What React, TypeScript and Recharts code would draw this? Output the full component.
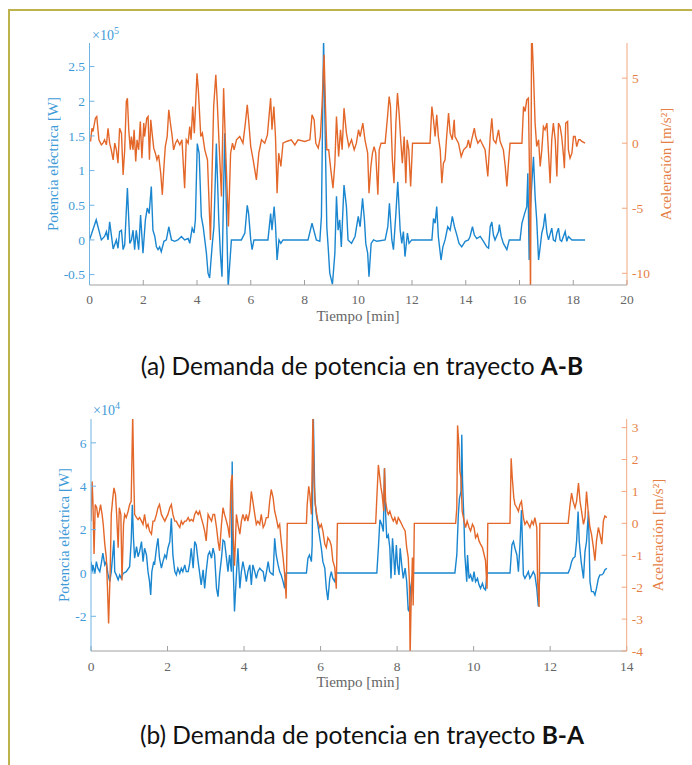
import { Line, LineChart, XAxis, YAxis } from "recharts"

const BLUE = "#1a86d0"
const ORANGE = "#e4672a"
const SERIF = "'Liberation Serif', 'Times New Roman', serif"

// (a) trayecto A-B : [tiempo min, potencia x1e5 W]
const powerAB: [number, number][] = [
  [0,0],[0.25,0.29],[0.44,0],[0.56,0.05],[0.63,0.12],[0.69,0],[0.75,0.26],[0.88,-0.13],[1.0,0],[1.06,-0.12],
  [1.12,0.12],[1.19,0.14],[1.25,-0.14],[1.31,-0.07],[1.41,0.75],[1.5,-0.05],[1.56,0],[1.62,0.14],[1.68,-0.14],[1.74,0.14],
  [1.83,-0.14],[1.9,0.36],[1.99,-0.19],[2.08,0.29],[2.15,0.46],[2.22,0.38],[2.3,0.77],[2.36,0.14],[2.43,0.05],[2.49,-0.1],
  [2.55,-0.14],[2.61,-0.1],[2.67,-0.17],[2.77,-0.02],[2.86,0],[2.95,0.19],[3.05,0],[3.17,-0.02],[3.29,0],[3.42,0.05],
  [3.54,0],[3.67,0.02],[3.73,-0.05],[3.82,0.17],[3.89,0.1],[3.94,0.29],[4.01,1.39],[4.08,1.25],[4.16,0.34],[4.23,0.19],
  [4.29,0],[4.35,-0.19],[4.41,-0.48],[4.47,-0.55],[4.56,-0.1],[4.63,0.19],[4.72,1.39],[4.81,0.29],[4.87,-0.19],[4.93,-0.53],
  [5.03,1.54],[5.16,-0.68],[5.28,0],[5.65,0],[5.78,0.1],[5.87,0.5],[5.92,0.38],[6.0,0],[6.05,-0.14],[6.12,0],
  [6.64,0],[6.74,0.38],[6.79,0.14],[6.87,0.48],[6.92,0.22],[6.98,-0.29],[7.05,0],[7.12,-0.05],[7.2,0],[8.13,0],
  [8.28,0.24],[8.44,0],[8.57,-0.02],[8.63,0.34],[8.71,2.9],[8.78,1.3],[8.83,0.19],[8.88,-0.1],[8.94,-0.48],[9.04,-0.64],
  [9.13,-0.19],[9.19,0.63],[9.25,0.14],[9.31,0.29],[9.37,-0.1],[9.47,0.79],[9.56,0.48],[9.62,0],[9.75,-0.05],[9.88,0.05],
  [10.0,0.34],[10.07,0.19],[10.16,0.6],[10.23,0.29],[10.28,-0.05],[10.35,-0.19],[10.4,-0.53],[10.48,-0.05],[10.57,0],[10.69,-0.02],
  [11.0,0],[11.1,0.19],[11.16,0.53],[11.25,0],[11.31,-0.14],[11.4,0.38],[11.47,0.84],[11.56,0.14],[11.62,-0.05],[11.68,0.12],
  [11.74,-0.24],[11.83,0.1],[11.89,-0.05],[11.99,0],[12.74,0],[12.8,0.31],[12.86,0.24],[12.92,0.48],[12.98,0.05],[13.08,-0.29],
  [13.15,-0.1],[13.23,0],[13.33,0.19],[13.42,0.14],[13.5,0.34],[13.58,0.19],[13.67,0.07],[13.75,-0.05],[13.85,-0.1],[13.98,-0.02],
  [14.1,0],[14.16,0.05],[14.25,0.19],[14.32,0.07],[14.41,0.02],[14.54,0.05],[14.66,-0.02],[14.78,-0.1],[14.85,-0.12],[14.91,0.19],
  [14.97,0.26],[15.03,0.07],[15.09,0],[15.22,0.12],[15.25,0.22],[15.32,0.05],[15.4,-0.05],[15.53,-0.14],[15.62,0],[16.02,0],
  [16.09,0.24],[16.19,0.38],[16.27,0.48],[16.31,0.96],[16.36,-0.29],[16.38,0.29],[16.46,0.82],[16.52,1.2],[16.58,0.63],[16.64,0.29],
  [16.71,-0.29],[16.77,-0.1],[16.83,0.1],[16.89,0.19],[16.95,0.38],[17.02,0.1],[17.08,0],[17.2,0.17],[17.26,0],[17.33,-0.02],
  [17.39,0.1],[17.45,0.17],[17.51,0],[17.57,-0.02],[17.7,0.12],[17.76,-0.02],[17.82,0.05],[17.95,0],[18.44,0],
]

// (a) trayecto A-B : [tiempo min, aceleración m/s2]
const accelAB: [number, number][] = [
  [0.04,0.13],[0.09,1.15],[0.13,0.9],[0.22,1.92],[0.27,2.05],[0.35,0.26],[0.44,-0.13],[0.5,0],[0.56,0.26],[0.63,-0.13],
  [0.69,1.15],[0.75,0],[0.81,-0.51],[0.88,-1.28],[0.94,0],[1.0,-0.51],[1.06,-1.54],[1.12,1.15],[1.19,0.77],[1.25,-2.44],
  [1.31,-0.51],[1.37,3.2],[1.41,3.46],[1.46,1.03],[1.52,-0.51],[1.56,0.51],[1.62,-0.51],[1.66,1.03],[1.72,-1.41],[1.77,0.26],
  [1.83,-0.51],[1.89,1.67],[1.95,-1.15],[2.02,1.54],[2.05,0.51],[2.13,1.92],[2.18,2.05],[2.23,-1.28],[2.28,1.79],[2.33,0.77],
  [2.39,-0.38],[2.45,-0.77],[2.51,-1.28],[2.57,-0.9],[2.65,-2.31],[2.71,-3.97],[2.77,-1.79],[2.82,-0.26],[2.89,0.51],[2.95,2.56],
  [3.01,1.54],[3.07,0.64],[3.13,-0.51],[3.2,0],[3.27,0.26],[3.36,-0.13],[3.44,0.26],[3.54,-3.46],[3.6,0.26],[3.67,0],
  [3.73,1.28],[3.78,0.26],[3.84,2.82],[3.9,0.77],[4.0,5.38],[4.05,4.1],[4.14,0.51],[4.2,0.77],[4.29,-0.51],[4.39,-1.28],
  [4.5,-7.44],[4.56,-2.31],[4.62,2.82],[4.7,5.26],[4.75,3.33],[4.81,0.51],[4.91,-4.1],[4.99,4.23],[5.07,-0.77],[5.17,-6.41],
  [5.25,-0.77],[5.32,0],[5.38,-0.51],[5.47,0.26],[5.59,0.51],[5.71,0],[5.8,1.54],[5.87,2.95],[5.92,1.79],[6.0,-0.26],
  [6.09,-1.28],[6.21,-2.82],[6.3,-0.77],[6.4,0.26],[6.52,0],[6.62,0.64],[6.74,3.46],[6.79,1.03],[6.86,2.82],[6.92,0.51],
  [6.98,-3.85],[7.04,-0.77],[7.12,-1.79],[7.2,0],[7.33,0.13],[7.51,0.26],[7.64,-0.13],[7.76,0.26],[8.01,0.13],[8.2,0.26],
  [8.28,2.18],[8.36,1.79],[8.42,0],[8.51,-0.38],[8.59,0.51],[8.65,2.82],[8.7,5.38],[8.73,6.79],[8.78,2.82],[8.83,-0.51],
  [8.9,-0.51],[8.98,-2.05],[9.06,-3.46],[9.13,-1.54],[9.19,2.05],[9.27,-1.03],[9.34,1.03],[9.4,-0.51],[9.47,2.69],[9.56,0.77],
  [9.65,-0.26],[9.75,0.26],[9.85,-0.51],[9.93,0],[10.01,1.03],[10.07,0.51],[10.17,1.54],[10.25,0.26],[10.35,-0.77],[10.4,-3.85],
  [10.47,-1.79],[10.53,-0.77],[10.59,-0.26],[10.65,-0.77],[10.73,-3.97],[10.78,-0.51],[10.85,0],[11.0,0],[11.09,2.05],[11.15,3.59],
  [11.2,2.82],[11.27,-1.28],[11.33,-3.08],[11.4,1.54],[11.46,3.85],[11.52,2.31],[11.58,0.26],[11.64,-1.54],[11.71,0.51],[11.77,-3.08],
  [11.82,0.26],[11.88,-0.51],[11.95,-3.33],[12.02,0],[12.67,0],[12.74,2.82],[12.8,1.79],[12.86,0.51],[12.92,2.18],[12.98,0.51],
  [13.05,-0.51],[13.11,-3.08],[13.17,-1.54],[13.23,-1.28],[13.29,0.51],[13.36,2.31],[13.42,0.77],[13.5,0.26],[13.57,1.79],[13.6,0.51],
  [13.73,0],[13.83,-1.03],[13.92,-0.51],[14.04,-0.26],[14.1,0.26],[14.16,-0.38],[14.22,0.26],[14.32,1.15],[14.37,0.51],[14.45,0],
  [14.54,0.26],[14.6,0],[14.72,-0.51],[14.82,-2.56],[14.91,0.51],[14.97,1.92],[15.03,0.26],[15.12,0],[15.22,1.03],[15.28,0.13],
  [15.4,-0.51],[15.47,-1.79],[15.53,-3.33],[15.59,-1.54],[15.65,0],[16.09,0],[16.15,2.82],[16.21,2.44],[16.27,3.33],[16.33,3.46],
  [16.38,-3.33],[16.41,-12],[16.45,9],[16.52,5.38],[16.58,1.54],[16.64,-0.26],[16.71,0.26],[16.77,-1.79],[16.83,-0.51],[16.89,1.28],
  [16.95,1.03],[17.02,1.54],[17.08,-0.77],[17.14,-3.08],[17.2,0.26],[17.26,1.54],[17.33,0.26],[17.39,-2.56],[17.45,1.54],[17.51,1.28],
  [17.57,0.51],[17.64,-1.03],[17.67,-1.92],[17.72,1.54],[17.79,1.67],[17.82,-0.51],[17.88,-1.15],[17.95,-0.77],[18.01,0.51],[18.07,0.51],
  [18.13,-0.26],[18.2,0.26],[18.26,0.26],[18.32,0.13],[18.44,0],
]

// (b) trayecto B-A : [tiempo min, potencia x1e4 W]
const powerBA: [number, number][] = [
  [0,0.52],[0.03,0.06],[0.05,0.37],[0.1,-0.02],[0.14,0.52],[0.18,0.22],[0.23,0.06],[0.27,0.45],[0.31,0.91],[0.36,0.37],
  [0.4,0.52],[0.44,-0.02],[0.49,-0.4],[0.53,0.06],[0.6,1.5],[0.62,0.06],[0.66,-0.09],[0.71,-0.32],[0.75,-0.09],[0.79,-0.25],
  [0.84,-0.02],[0.92,0.06],[1.01,0.29],[1.05,1.45],[1.08,3.14],[1.11,1.6],[1.14,0.68],[1.19,1.22],[1.23,0.75],[1.27,0.98],
  [1.32,1.45],[1.36,0.52],[1.4,1.14],[1.45,0.83],[1.49,0.06],[1.53,-0.4],[1.56,-1.02],[1.59,0.06],[1.64,0.52],[1.66,0.37],
  [1.71,1.14],[1.75,1.6],[1.79,0.68],[1.84,0.22],[1.88,0.52],[1.93,0.83],[1.97,0.68],[2.01,1.14],[2.06,1.45],[2.1,2.52],
  [2.14,0.83],[2.19,0.06],[2.23,-0.09],[2.27,0.22],[2.32,-0.02],[2.36,0.22],[2.4,0.06],[2.45,0.37],[2.49,0.06],[2.54,0.06],
  [2.58,0.45],[2.62,1.14],[2.67,0.22],[2.71,1.45],[2.75,1.29],[2.8,0.52],[2.84,-0.02],[2.88,-0.55],[2.93,0.14],[2.97,-0.71],
  [3.01,0.06],[3.06,0.83],[3.1,0.98],[3.15,0.68],[3.19,1.14],[3.23,0.83],[3.28,-0.71],[3.32,-1.09],[3.36,-0.09],[3.41,0.68],
  [3.45,1.52],[3.49,1.45],[3.54,0.68],[3.58,0.06],[3.62,0.83],[3.67,0.06],[3.69,5.14],[3.72,0.06],[3.75,-1.78],[3.8,-0.09],
  [3.84,1.14],[3.89,-0.71],[3.93,0.06],[3.97,0.52],[4.02,0.06],[4.06,-0.4],[4.1,0.06],[4.15,0.37],[4.19,-0.55],[4.23,0.37],
  [4.28,0.06],[4.32,-0.25],[4.36,0.06],[4.41,0.22],[4.45,0.14],[4.5,0.06],[4.54,-0.4],[4.58,-0.02],[4.63,0.52],[4.67,0.06],
  [4.71,-0.02],[4.76,-0.09],[4.8,1.6],[4.84,0.83],[4.89,0.37],[4.93,0.06],[4.97,-0.09],[5.02,-0.4],[5.06,-0.71],[5.1,0],
  [5.63,0],[5.67,0.68],[5.71,0.83],[5.76,0.52],[5.78,1.29],[5.81,7.3],[5.85,3.45],[5.89,2.68],[5.93,2.22],[5.98,1.6],
  [6.02,1.14],[6.06,0.52],[6.11,0.22],[6.15,-0.71],[6.19,-1.25],[6.24,-0.25],[6.28,0.06],[6.32,-0.25],[6.37,-0.4],[6.41,0],
  [7.47,0],[7.51,1.14],[7.55,2.45],[7.6,2.22],[7.64,1.91],[7.67,4.83],[7.7,2.68],[7.73,1.6],[7.77,1.75],[7.81,1.14],
  [7.84,-0.25],[7.88,1.6],[7.91,0.83],[7.94,-0.09],[7.98,1.29],[8.01,0.37],[8.05,-0.09],[8.08,1.14],[8.12,0.37],[8.16,-0.25],
  [8.21,0.22],[8.25,-0.4],[8.29,-1.71],[8.32,-1.78],[8.35,-0.71],[8.38,-0.4],[8.42,0],[9.51,0],[9.56,0.83],[9.6,2.68],
  [9.63,3.45],[9.67,3.75],[9.69,6.37],[9.71,4.22],[9.75,2.22],[9.77,0.83],[9.82,-0.4],[9.84,0.83],[9.88,-0.25],[9.92,-0.09],
  [9.97,-0.4],[10.01,0.06],[10.05,-0.4],[10.1,-0.25],[10.14,-0.55],[10.18,-0.71],[10.23,-0.48],[10.27,-0.71],[10.31,-0.78],[10.35,0],
  [10.95,0],[11.0,1.29],[11.04,1.45],[11.08,1.14],[11.13,0.83],[11.17,0.06],[11.21,1.29],[11.25,2.9],[11.3,-0.09],[11.34,-0.25],
  [11.39,-0.09],[11.43,0.06],[11.47,-0.25],[11.52,-0.09],[11.56,0.06],[11.6,-0.09],[11.65,-0.71],[11.69,-1.55],[11.73,0],[12.47,0],
  [12.52,0.22],[12.56,0.52],[12.6,0.68],[12.65,0.75],[12.69,1.45],[12.73,2.83],[12.76,1.45],[12.81,0.52],[12.87,-0.25],[12.91,0.98],
  [12.95,1.45],[13.0,2.83],[13.04,-0.4],[13.08,-0.86],[13.13,-0.86],[13.17,-1.02],[13.21,-0.71],[13.26,-0.25],[13.3,-0.09],[13.35,-0.09],
  [13.39,-0.02],[13.43,0.14],[13.48,0.22],
]

// (b) trayecto B-A : [tiempo min, aceleración m/s2]
const accelBA: [number, number][] = [
  [0,0.07],[0.03,1.31],[0.05,0.69],[0.08,-0.96],[0.11,0.59],[0.15,0.49],[0.18,0.18],[0.22,0.38],[0.25,0.59],[0.29,0.28],
  [0.32,-0.03],[0.36,-0.65],[0.4,-1.07],[0.43,-2.0],[0.46,-3.14],[0.5,-1.58],[0.53,0.28],[0.57,0.8],[0.6,1.11],[0.64,0.9],
  [0.67,0.28],[0.71,-0.76],[0.74,0.49],[0.78,0.28],[0.81,-1.79],[0.85,-0.03],[0.88,0.28],[0.92,0.18],[0.97,0.38],[1.01,0.59],
  [1.05,0.69],[1.09,3.4],[1.12,1.31],[1.14,0.28],[1.19,0.18],[1.23,0.12],[1.27,0.18],[1.32,0.07],[1.36,-0.03],[1.4,0.28],
  [1.45,-0.13],[1.49,-0.03],[1.53,-0.24],[1.58,-0.34],[1.62,0.07],[1.66,0.07],[1.71,0.28],[1.75,0.49],[1.79,0.59],[1.84,0.28],
  [1.88,0.18],[1.93,0.07],[1.97,0.18],[2.01,0.28],[2.06,0.49],[2.1,0.59],[2.14,0.28],[2.19,0.07],[2.23,0.07],[2.27,-0.03],
  [2.32,-0.13],[2.36,0.07],[2.4,-0.03],[2.45,0.07],[2.49,0.07],[2.54,0.18],[2.58,0.07],[2.62,0.12],[2.67,0.07],[2.71,0.28],
  [2.75,0.38],[2.8,0.28],[2.84,0.38],[2.88,0.18],[2.93,-0.03],[2.97,-0.24],[3.01,-0.55],[3.06,0.28],[3.1,0.18],[3.15,0.07],
  [3.19,0.28],[3.23,0.28],[3.28,-0.13],[3.32,-0.55],[3.36,-0.86],[3.41,-0.03],[3.45,0.49],[3.49,0.28],[3.54,0.07],[3.58,-0.13],
  [3.62,-0.45],[3.66,1.31],[3.69,1.52],[3.71,-0.24],[3.75,-1.33],[3.8,0.28],[3.84,-0.03],[3.89,-0.34],[3.93,0.07],[3.97,0.28],
  [4.02,0.07],[4.06,0.28],[4.1,0.07],[4.15,0.38],[4.19,1.0],[4.23,0.69],[4.28,0.28],[4.32,-0.03],[4.36,0.07],[4.41,-0.03],
  [4.45,0.28],[4.5,-0.13],[4.54,-0.03],[4.58,0.18],[4.63,0.18],[4.67,0.69],[4.71,1.06],[4.76,0.8],[4.8,0.38],[4.84,0.18],
  [4.89,-0.13],[4.93,-0.03],[4.97,-0.55],[5.02,-1.07],[5.06,-1.58],[5.1,-2.36],[5.13,0],[5.63,0],[5.65,0.59],[5.69,1.16],
  [5.72,0.9],[5.76,0.28],[5.8,3.4],[5.83,1.31],[5.86,0.59],[5.9,0.28],[5.93,0.07],[5.98,-0.13],[6.02,-0.03],[6.06,-0.24],
  [6.11,-0.65],[6.15,-0.76],[6.19,-0.45],[6.24,-0.55],[6.28,-0.7],[6.32,-1.17],[6.37,-1.38],[6.41,-2.05],[6.44,0],[7.44,0],
  [7.47,0.8],[7.51,1.83],[7.54,1.52],[7.58,1.11],[7.61,0.9],[7.65,0.38],[7.67,1.73],[7.7,0.69],[7.74,0.38],[7.77,0.28],
  [7.81,0.38],[7.86,0.18],[7.9,0.07],[7.94,0.18],[7.99,-0.03],[8.03,0.18],[8.08,0.07],[8.12,-0.03],[8.16,-0.13],[8.21,-0.24],
  [8.25,-0.76],[8.29,-1.07],[8.32,-1.79],[8.34,-4.2],[8.36,-2.83],[8.4,-1.07],[8.42,-2.57],[8.45,0],[9.53,0],[9.56,0.49],
  [9.58,3.07],[9.62,2.35],[9.64,1.63],[9.67,1.42],[9.7,0.38],[9.75,0.07],[9.79,-0.13],[9.83,0.07],[9.88,-0.13],[9.92,-0.24],
  [9.97,-0.03],[10.01,-0.13],[10.05,-0.45],[10.1,-0.34],[10.14,-0.55],[10.18,-0.65],[10.23,-0.76],[10.27,-0.96],[10.31,-1.17],[10.35,-2.05],
  [10.37,0],[10.95,0],[10.98,2.04],[11.01,1.42],[11.05,0.8],[11.08,0.59],[11.13,0.49],[11.17,0.38],[11.21,0.59],[11.25,0.69],
  [11.3,0.18],[11.34,-0.03],[11.39,0.07],[11.43,-0.03],[11.47,-0.13],[11.52,0.07],[11.56,-0.03],[11.6,0.18],[11.65,-0.13],[11.67,-1.79],
  [11.71,-2.62],[11.73,0],[12.47,0],[12.52,0.59],[12.56,0.95],[12.6,0.69],[12.65,0.49],[12.69,0.69],[12.74,1.26],[12.78,0.69],
  [12.82,0.38],[12.87,-0.03],[12.91,0.18],[12.95,1.0],[13.0,0.28],[13.04,-0.13],[13.08,-0.34],[13.13,-0.76],[13.17,-1.17],[13.21,-0.55],
  [13.26,-0.13],[13.3,-0.34],[13.35,-0.65],[13.39,0.07],[13.43,0.23],[13.48,0.18],
]

const ticksAB = [0, 2, 4, 6, 8, 10, 12, 14, 16, 18, 20]
const ticksBA = [0, 2, 4, 6, 8, 10, 12, 14]
const powerTicksAB = [-0.5, 0, 0.5, 1, 1.5, 2, 2.5]
const accelTicksAB = [-10, -5, 0, 5]
const powerTicksBA = [-2, 0, 2, 4, 6]
const accelTicksBA = [-4, -3, -2, -1, 0, 1, 2, 3]

const toRows = (pts: [number, number][]) => pts.map(([t, v]) => ({ t, v }))

// serif tick labels, drawn by hand so the font is not lost
const serifTick = (fill: string, dy: string) => (props: any) => (
  <text
    x={props.x}
    y={props.y}
    dy={dy}
    textAnchor={props.textAnchor}
    fill={fill}
    fontSize={13.5}
    fontFamily={SERIF}
  >
    {props.payload.value}
  </text>
)

type PanelProps = {
  top: number
  height: number
  plotTop: number
  leftW: number
  rightW: number
  xAxisH: number
  tickGap: number
  power: [number, number][]
  accel: [number, number][]
  xTicks: number[]
  powerDomain: [number, number]
  powerTicks: number[]
  accelDomain: [number, number]
  accelTicks: number[]
}

function Panel(p: PanelProps) {
  const xMax = p.xTicks[p.xTicks.length - 1]
  return (
    <div style={{ position: "absolute", left: 0, top: p.top }}>
      <LineChart width={692} height={p.height} margin={{ top: p.plotTop, right: 0, left: 0, bottom: 0 }}>
        <XAxis
          xAxisId="bottom"
          type="number"
          dataKey="t"
          domain={[0, xMax]}
          ticks={p.xTicks}
          height={p.xAxisH}
          tickSize={-5}
          tickMargin={p.tickGap}
          stroke="#a0a0a0"
          tick={serifTick("#666", "0.71em")}
          allowDataOverflow
        />
        <XAxis
          xAxisId="top"
          orientation="top"
          type="number"
          dataKey="t"
          domain={[0, xMax]}
          ticks={p.xTicks}
          height={0}
          tickSize={-5}
          tickFormatter={() => ""}
          stroke="#a0a0a0"
          allowDataOverflow
        />
        <YAxis
          yAxisId="power"
          orientation="left"
          type="number"
          domain={p.powerDomain}
          ticks={p.powerTicks}
          width={p.leftW}
          tickSize={-5}
          tickMargin={9.5}
          stroke="#6fb4e3"
          tick={serifTick("#3f9bd8", "0.355em")}
          allowDataOverflow
        />
        <YAxis
          yAxisId="accel"
          orientation="right"
          type="number"
          domain={p.accelDomain}
          ticks={p.accelTicks}
          width={p.rightW}
          tickSize={-5}
          tickMargin={10}
          stroke="#f2a77f"
          tick={serifTick("#e57f45", "0.355em")}
          allowDataOverflow
        />
        <Line
          xAxisId="bottom"
          yAxisId="power"
          data={toRows(p.power)}
          dataKey="v"
          type="linear"
          stroke={BLUE}
          strokeWidth={1.4}
          dot={false}
          isAnimationActive={false}
        />
        <Line
          xAxisId="bottom"
          yAxisId="accel"
          data={toRows(p.accel)}
          dataKey="v"
          type="linear"
          stroke={ORANGE}
          strokeWidth={1.4}
          dot={false}
          isAnimationActive={false}
        />
      </LineChart>
    </div>
  )
}

function Caption({ top, label, bold }: { top: number; label: string; bold: string }) {
  return (
    <div
      style={{
        position: "absolute",
        left: 362,
        top,
        transform: "translateX(-50%)",
        whiteSpace: "nowrap",
        fontFamily: "Lato, 'Open Sans', sans-serif",
        fontSize: 24.5,
        lineHeight: "24px",
        color: "#111",
      }}
    >
      {label}
      <b>{bold}</b>
    </div>
  )
}

export default function App() {
  return (
    <div style={{ position: "absolute", left: 0, top: 0, width: 692, height: 765, overflow: "hidden", background: "#fff" }}>
      <div
        style={{
          position: "absolute",
          left: 8,
          top: 9,
          width: 720,
          height: 800,
          borderLeft: "2px solid #bdb24c",
          borderTop: "2px solid #bdb24c",
        }}
      />
      <Panel
        top={0}
        height={340}
        plotTop={43}
        leftW={89.5}
        rightW={65}
        xAxisH={55}
        tickGap={14}
        power={powerAB}
        accel={accelAB}
        xTicks={ticksAB}
        powerDomain={[-0.65, 2.84]}
        powerTicks={powerTicksAB}
        accelDomain={[-10.9, 7.7]}
        accelTicks={accelTicksAB}
      />
      <Panel
        top={380}
        height={340}
        plotTop={39}
        leftW={91}
        rightW={65.3}
        xAxisH={69}
        tickGap={15}
        power={powerBA}
        accel={accelBA}
        xTicks={ticksBA}
        powerDomain={[-3.6, 7.1]}
        powerTicks={powerTicksBA}
        accelDomain={[-4, 3.27]}
        accelTicks={accelTicksBA}
      />
      <svg width={692} height={765} style={{ position: "absolute", left: 0, top: 0, pointerEvents: "none" }}>
        <g fontFamily={SERIF}>
          <text x={92} y={40} fontSize={14} fill="#3f9bd8">
            ×10<tspan dy={-6} fontSize={10}>5</tspan>
          </text>
          <text x={93} y={415} fontSize={14} fill="#3f9bd8">
            ×10<tspan dy={-6} fontSize={10}>4</tspan>
          </text>
          <text x={53} y={164} fontSize={15} fill="#3f9bd8" textAnchor="middle" dominantBaseline="central" transform="rotate(-90 53 164)">
            Potencia eléctrica [W]
          </text>
          <text x={666} y={164} fontSize={15} fill="#e57f45" textAnchor="middle" dominantBaseline="central" transform="rotate(-90 666 164)">
            Aceleración [m/s²]
          </text>
          <text x={358} y={321} fontSize={15} fill="#666" textAnchor="middle">
            Tiempo [min]
          </text>
          <text x={64} y={535} fontSize={15} fill="#3f9bd8" textAnchor="middle" dominantBaseline="central" transform="rotate(-90 64 535)">
            Potencia eléctrica [W]
          </text>
          <text x={658} y={535} fontSize={15} fill="#e57f45" textAnchor="middle" dominantBaseline="central" transform="rotate(-90 658 535)">
            Aceleración [m/s²]
          </text>
          <text x={358} y={687} fontSize={15} fill="#666" textAnchor="middle">
            Tiempo [min]
          </text>
        </g>
      </svg>
      <Caption top={354} label="(a) Demanda de potencia en trayecto " bold="A-B" />
      <Caption top={723} label="(b) Demanda de potencia en trayecto " bold="B-A" />
    </div>
  )
}
